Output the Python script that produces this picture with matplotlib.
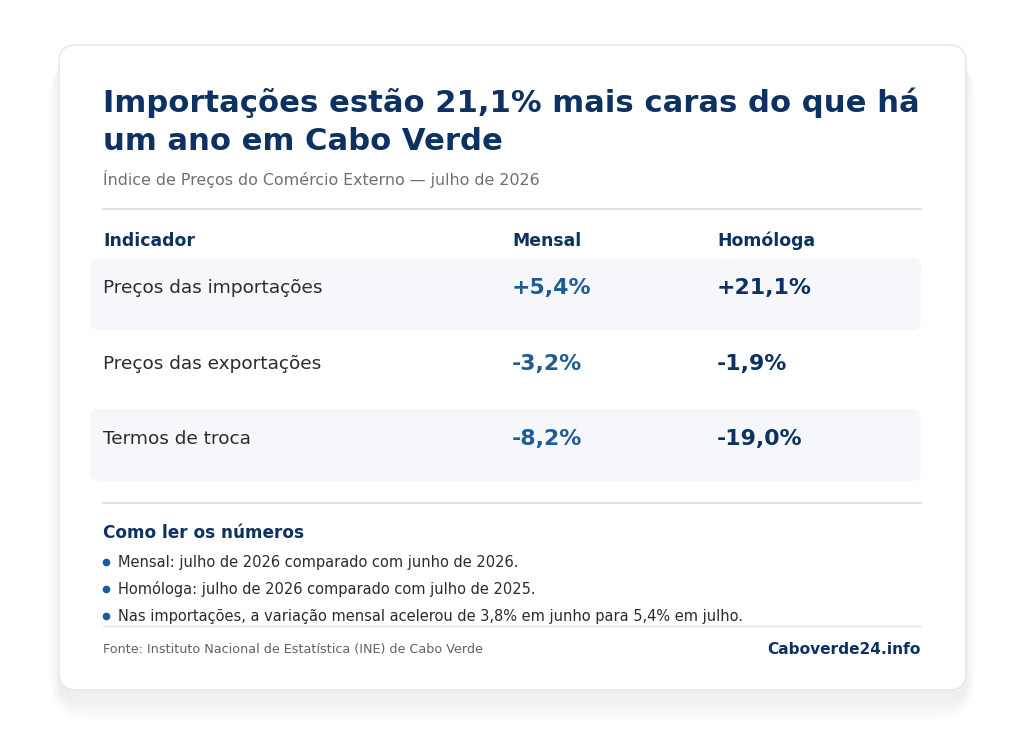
import matplotlib
matplotlib.use("Agg")
import matplotlib.pyplot as plt
from matplotlib.patches import FancyBboxPatch

plt.rcParams['font.family'] = ['DejaVu Sans']

title_lines = ["Importações estão 21,1% mais caras do que há", "um ano em Cabo Verde"]
subtitle = "Índice de Preços do Comércio Externo — julho de 2026"
headers = ["Indicador", "Mensal", "Homóloga"]
indicators = ["Preços das importações", "Preços das exportações", "Termos de troca"]
mensal = ["+5,4%", "-3,2%", "-8,2%"]
homologa = ["+21,1%", "-1,9%", "-19,0%"]
notes_title = "Como ler os números"
notes = [
    "Mensal: julho de 2026 comparado com junho de 2026.",
    "Homóloga: julho de 2026 comparado com julho de 2025.",
    "Nas importações, a variação mensal acelerou de 3,8% em junho para 5,4% em julho.",
]
source = "Fonte: Instituto Nacional de Estatística (INE) de Cabo Verde"
brand = "Caboverde24.info"

NAVY = "#0d3160"
BLUE = "#1f5b96"
TEXT = "#2b2b2b"
GRAY = "#6b6f76"
LINE = "#dfe2e8"
BAND = "#f5f7fb"

fig = plt.figure(figsize=(10.24, 7.55), dpi=100)
fig.patch.set_facecolor("white")
ax = fig.add_axes([0, 0, 1, 1])
ax.set_xlim(0, 1024)
ax.set_ylim(755, 0)
ax.axis("off")

# soft shadow (mostly below the card)
for i in range(16):
    g = 1 + i * 1.8
    ax.add_patch(FancyBboxPatch((59 - g * 0.35, 45 + 10), 907 + g * 0.7, 645 + g * 0.8,
                                boxstyle="round,pad=0,rounding_size=%f" % (18 + g),
                                fc="#000000", ec="none", alpha=0.005, zorder=1))
# card
ax.add_patch(FancyBboxPatch((59, 45), 907, 645, boxstyle="round,pad=0,rounding_size=17",
                            fc="white", ec="#e3e5e9", lw=1.0, zorder=2))

# title
ax.text(103, 112, title_lines[0], fontsize=22.1, fontweight="bold", color=NAVY, va="baseline", zorder=5)
ax.text(103, 150, title_lines[1], fontsize=22.1, fontweight="bold", color=NAVY, va="baseline", zorder=5)
ax.text(103, 179, subtitle, fontsize=11.4, color=GRAY, va="center", zorder=5)
ax.plot([103, 921], [209, 209], color=LINE, lw=1.5, zorder=3)

# header
col_x = [103, 512, 717]
for x, h in zip(col_x, headers):
    ax.text(x, 241, h, fontsize=12.4, fontweight="bold", color=NAVY, va="center", zorder=5)

row_y = [288, 364, 439]
for i, (ind, m, h) in enumerate(zip(indicators, mensal, homologa)):
    y = row_y[i]
    if i % 2 == 0:
        ax.add_patch(FancyBboxPatch((90, y - 30), 831, 72, boxstyle="round,pad=0,rounding_size=9",
                                    fc=BAND, ec="none", zorder=3))
    ax.text(col_x[0], y, ind, fontsize=13.3, color=TEXT, va="center", zorder=5)
    ax.text(col_x[1], y, m, fontsize=15.8, fontweight="bold", color=BLUE, va="center", zorder=5)
    ax.text(col_x[2], y, h, fontsize=15.8, fontweight="bold", color=NAVY, va="center", zorder=5)

ax.plot([103, 921], [503, 503], color=LINE, lw=1.5, zorder=3)

ax.text(103, 533, notes_title, fontsize=12.2, fontweight="bold", color=NAVY, va="center", zorder=5)
note_y = [562, 589, 616]
for y, n in zip(note_y, notes):
    ax.plot([106], [y], marker="o", ms=4.5, color=BLUE, zorder=5)
    ax.text(118, y, n, fontsize=10.5, color=TEXT, va="center", zorder=5)

ax.plot([103, 921], [626, 626], color=LINE, lw=1.0, zorder=3)
ax.text(103, 649, source, fontsize=9.2, color="#5d6168", va="center", zorder=5)
ax.text(921, 649, brand, fontsize=11.1, fontweight="bold", color=NAVY, va="center", ha="right", zorder=5)

fig.savefig("out.png", dpi=100, facecolor="white")
